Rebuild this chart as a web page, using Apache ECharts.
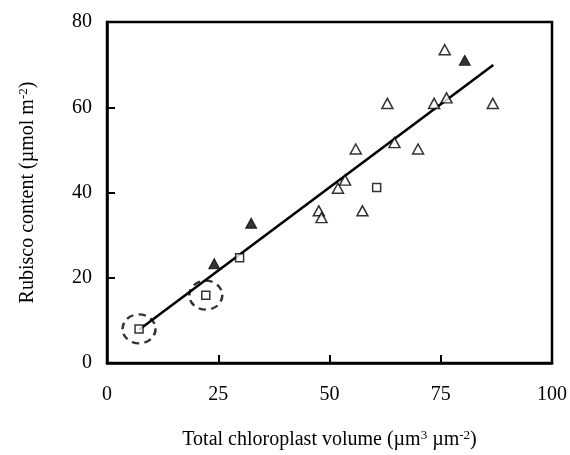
<!DOCTYPE html>
<html>
<head>
<meta charset="utf-8">
<script src="https://cdn.jsdelivr.net/npm/echarts@6/dist/echarts.min.js"></script>
<style>html,body{margin:0;padding:0;background:#fff}#c{width:570px;height:455px}</style>
</head>
<body>
<div id="c"></div>
<script>
// Data
const openTriangles = [
  [75.9, 73.5], [86.7, 60.9], [63.0, 60.9], [73.5, 60.9], [76.3, 62.2],
  [55.9, 50.2], [64.6, 51.7], [69.9, 50.2], [53.5, 42.9], [51.9, 41.0],
  [47.6, 35.7], [48.2, 34.1], [57.4, 35.7]
];
const openSquares = [[60.6, 41.2], [29.8, 24.7], [22.2, 15.9], [7.2, 8.0]];
const filledTriangles = [[80.4, 71.0], [32.4, 32.8], [24.1, 23.3]];
const regressionLine = [[7.2, 7.8], [86.8, 69.9]];
const circledPoints = [[7.2, 8.0], [22.2, 15.9]];
const xTicks = [0, 25, 50, 75, 100];
const yTicks = [0, 20, 40, 60, 80];

const FONT = 'Liberation Serif';
const chart = echarts.init(document.getElementById('c'), null, {renderer: 'canvas'});
const sup = {fontSize: 13, fontFamily: FONT, color: '#000', padding: [0, 0, 9, 0]};

chart.setOption({
  animation: false,
  backgroundColor: '#fff',
  grid: {left: 107, right: 18, top: 22, bottom: 90, show: true, borderColor: '#000', borderWidth: 2.5, backgroundColor: 'transparent'},
  xAxis: {
    type: 'value', min: xTicks[0], max: xTicks[xTicks.length - 1], interval: 25,
    axisLine: {show: true, onZero: false, lineStyle: {color: '#000', width: 2.5}},
    axisTick: {show: true, inside: true, length: 8, lineStyle: {color: '#000', width: 2}},
    splitLine: {show: false},
    axisLabel: {margin: 22, fontSize: 20, fontFamily: FONT, color: '#000'},
    name: 'Total chloroplast volume (µm{s|3} µm{s|-2})',
    nameLocation: 'middle', nameGap: 66,
    nameTextStyle: {fontSize: 20, fontFamily: FONT, color: '#000', rich: {s: sup}}
  },
  yAxis: {
    type: 'value', min: yTicks[0], max: yTicks[yTicks.length - 1], interval: 20,
    axisLine: {show: true, onZero: false, lineStyle: {color: '#000', width: 2.5}},
    axisTick: {show: true, inside: true, length: 8, lineStyle: {color: '#000', width: 2}},
    splitLine: {show: false},
    axisLabel: {margin: 15, fontSize: 20, fontFamily: FONT, color: '#000'},
    name: 'Rubisco content (µmol m{s|-2})',
    nameLocation: 'middle', nameGap: 68,
    nameTextStyle: {fontSize: 20, fontFamily: FONT, color: '#000', rich: {s: sup}}
  },
  series: [
    {
      type: 'line', data: regressionLine, symbol: 'none', z: 2,
      lineStyle: {color: '#000', width: 2.6}
    },
    {
      type: 'scatter', data: circledPoints, symbol: 'circle', symbolSize: [33, 29], z: 1,
      itemStyle: {color: 'transparent', borderColor: '#000', borderWidth: 2.4, borderType: [7, 5]}
    },
    {
      type: 'scatter', data: openTriangles, symbol: 'triangle', symbolSize: [11, 10], z: 3,
      itemStyle: {color: '#fff', borderColor: '#000', borderWidth: 1.5}
    },
    {
      type: 'scatter', data: openSquares, symbol: 'rect', symbolSize: 8, z: 3,
      itemStyle: {color: '#fff', borderColor: '#000', borderWidth: 1.5}
    },
    {
      type: 'scatter', data: filledTriangles, symbol: 'triangle', symbolSize: [11, 10], z: 3,
      itemStyle: {color: '#000', borderColor: '#000', borderWidth: 1}
    }
  ]
});
</script>
</body>
</html>
